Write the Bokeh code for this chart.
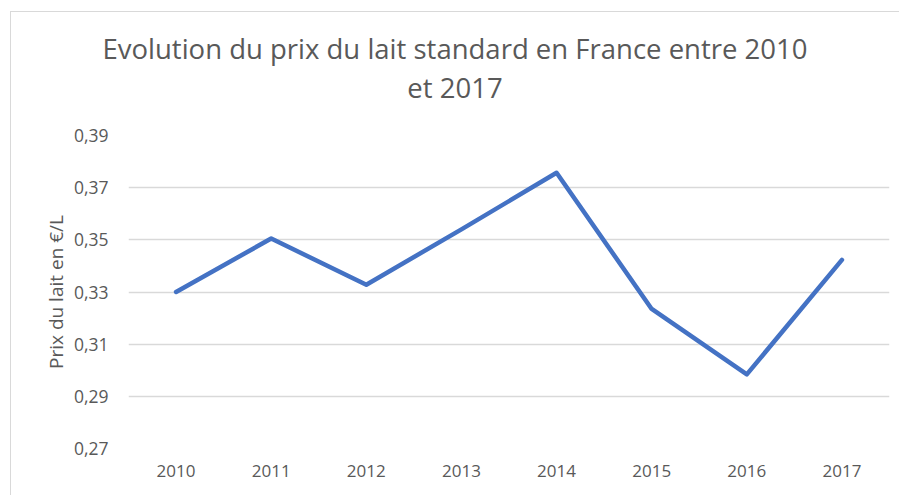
from bokeh.plotting import figure
from bokeh.layouts import column
from bokeh.models import Range1d, Div, FixedTicker, CustomJSTickFormatter
from bokeh.embed import file_html
from bokeh.resources import INLINE

years = ["2010", "2011", "2012", "2013", "2014", "2015", "2016", "2017"]
prices = [0.330, 0.3505, 0.3328, 0.3540, 0.3757, 0.3235, 0.2984, 0.3423]
y_ticks = [0.27, 0.29, 0.31, 0.33, 0.35, 0.37, 0.39]
title_lines = ["Evolution du prix du lait standard en France entre 2010", "et 2017"]

FONT = "Open Sans"
GREY = "#595959"

title = Div(
    text=('<div style="width:866px;padding-left:22px;padding-top:17px;text-align:center;'
          f'font-family:\'{FONT}\';font-size:27.5px;line-height:39px;color:{GREY};">'
          + "<br>".join(title_lines) + "</div>"),
    width=888, height=100, margin=0)

p = figure(x_range=years, y_range=Range1d(0.27, 0.39), width=888, height=383,
           output_backend="svg", toolbar_location=None, margin=0,
           min_border_left=117, min_border_right=10, min_border_top=23, min_border_bottom=47)
p.outline_line_color = None

p.line(years, prices, line_color="#4472c4", line_width=4.5, line_join="round", line_cap="round")

# y axis
p.yaxis.ticker = FixedTicker(ticks=y_ticks)
p.yaxis.formatter = CustomJSTickFormatter(code="return tick.toFixed(2).replace('.', ',');")
p.yaxis.axis_line_color = None
p.yaxis.major_tick_line_color = None
p.yaxis.minor_tick_line_color = None
p.yaxis.major_label_standoff = 14
p.yaxis.major_label_text_font = FONT
p.yaxis.major_label_text_font_size = "17.5px"
p.yaxis.major_label_text_color = GREY
p.yaxis.axis_label = "Prix du lait en €/L"
p.yaxis.axis_label_text_font = FONT
p.yaxis.axis_label_text_font_size = "19px"
p.yaxis.axis_label_text_font_style = "normal"
p.yaxis.axis_label_text_color = GREY
p.yaxis.axis_label_standoff = 2

# x axis
p.xaxis.axis_line_color = None
p.xaxis.major_tick_line_color = None
p.xaxis.major_label_standoff = 10
p.xaxis.major_label_text_font = FONT
p.xaxis.major_label_text_font_size = "17px"
p.xaxis.major_label_text_color = GREY

# grid
p.xgrid.grid_line_color = None
p.ygrid.ticker = FixedTicker(ticks=y_ticks)
p.ygrid.grid_line_color = "#d9d9d9"
p.ygrid.grid_line_width = 1.5

layout = column(title, p, spacing=0)
layout.styles = {"border-left": "1px solid #d9d9d9", "border-top": "1px solid #d9d9d9",
                 "margin-left": "10px", "margin-top": "11px", "background-color": "white"}

open("out.html", "w").write(file_html(layout, INLINE))
